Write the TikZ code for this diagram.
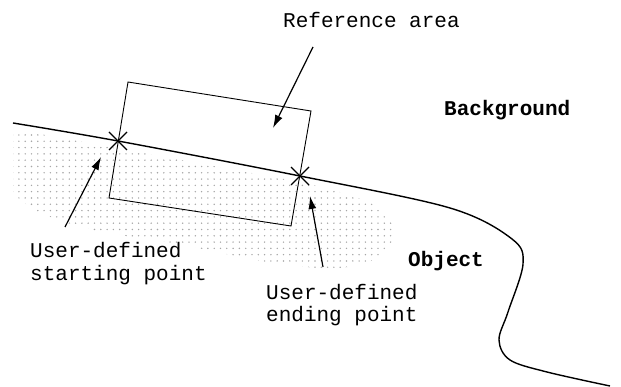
\documentclass[tikz,border=0pt]{standalone}
\usepackage{fontspec}
\setmonofont{Liberation Mono}
\usetikzlibrary{arrows.meta,patterns.meta}
\tikzset{
  lbl/.style={font=\ttfamily\fontsize{21}{23}\selectfont, inner sep=0pt, anchor=base west, align=left},
  blbl/.style={lbl, font=\ttfamily\bfseries\fontsize{21}{23}\selectfont},
  objline/.style={line width=1.4pt},
  refbox/.style={line width=0.9pt},
  pointer/.style={line width=1.2pt, -{Latex[length=13pt,width=8pt]}},
  starx/.style={line width=1.2pt},
  dotfill/.style={pattern={Dots[distance=6.3pt,radius=0.8pt]}, pattern color=black!35}
}
\begin{document}
\begin{tikzpicture}[x=1pt,y=-1pt]
\useasboundingbox (0,0) rectangle (621,387);

% dotted object region
\fill[dotfill] (13,129) -- (300,182) .. controls (360,196) and (395,206) .. (393,235)
  .. controls (392,262) and (350,270) .. (320,268)
  .. controls (250,264) and (200,245) .. (140,238)
  .. controls (80,230) and (30,215) .. (13,192) -- cycle;

% named points
\coordinate (s1) at (118,141);
\coordinate (s2) at (300,176);
\coordinate (tl) at (128,82);
\coordinate (tr) at (311,111);
\coordinate (br) at (291,226);
\coordinate (bl) at (109,198);

% object boundary
\draw[objline] plot[smooth, tension=0.55] coordinates {(13,123) (118,141) (300,176) (450,208) (512,239) (523,264) (508,312) (499,340) (510,360) (547,372) (610,386)};

% reference area
\draw[refbox] (tl) -- (tr) -- (br) -- (bl) -- cycle;

% user-defined points
\draw[starx] ([shift={(-9,-9)}]s1) -- ([shift={(9,9)}]s1);
\draw[starx] ([shift={(-9,9)}]s1) -- ([shift={(9,-9)}]s1);
\draw[starx] ([shift={(-9,-9)}]s2) -- ([shift={(9,9)}]s2);
\draw[starx] ([shift={(-9,9)}]s2) -- ([shift={(9,-9)}]s2);

% labels
\node[lbl] (refarea) at (283,27.5) {Reference area};
\node[blbl] (background) at (444,115.5) {Background};
\node[blbl] (object) at (408,266.5) {Object};
\node[lbl] (startlabel) at (30,281) {User-defined\\starting point};
\node[lbl] (endlabel) at (266,322) {User-defined\\ending point};

% arrows
\coordinate (a1s) at (313,47);  \coordinate (a1e) at (273,128);
\coordinate (a2s) at (65,227);  \coordinate (a2e) at (101,157);
\coordinate (a3s) at (323,267); \coordinate (a3e) at (310,196);
\draw[pointer] (a1s) -- (a1e);
\draw[pointer] (a2s) -- (a2e);
\draw[pointer] (a3s) -- (a3e);
\end{tikzpicture}
\end{document}
